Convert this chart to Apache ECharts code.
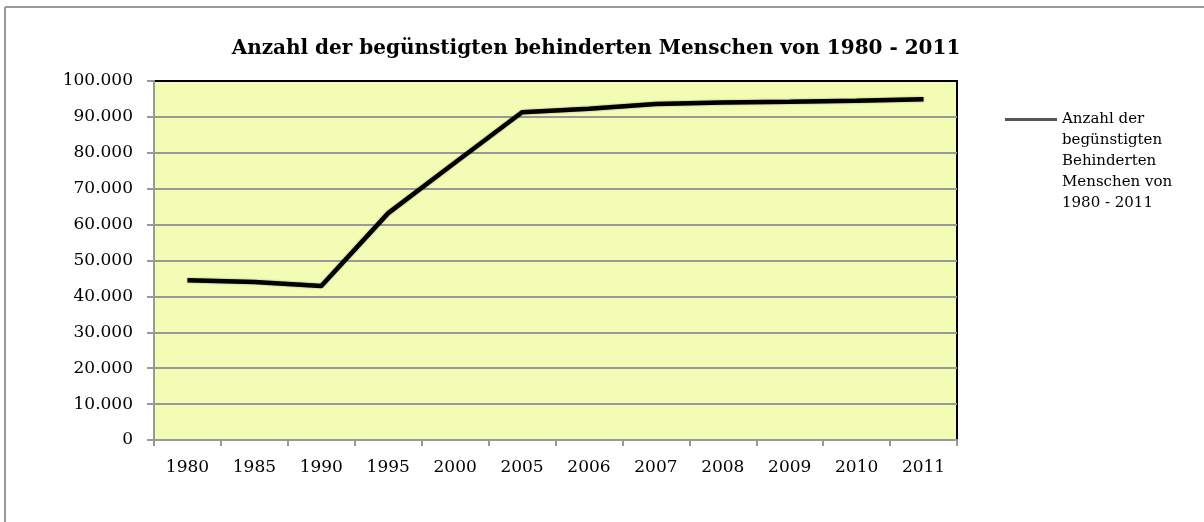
<!DOCTYPE html>
<html>
<head>
<meta charset="utf-8">
<script src="https://cdn.jsdelivr.net/npm/echarts@6/dist/echarts.min.js"></script>
<style>
html, body { margin: 0; padding: 0; background: #fff; }
#chart { width: 1204px; height: 522px; }
</style>
</head>
<body>
<div id="chart"></div>
<script>
// Jahre (Kategorien)
var years = ['1980', '1985', '1990', '1995', '2000', '2005', '2006', '2007', '2008', '2009', '2010', '2011'];
// Werte
var values = [44500, 44000, 42900, 63200, 77300, 91300, 92300, 93600, 94000, 94200, 94500, 94900];
var yTickLabels = ['0', '10.000', '20.000', '30.000', '40.000', '50.000', '60.000', '70.000', '80.000', '90.000', '100.000'];
var seriesName = 'Anzahl der begünstigten Behinderten Menschen von 1980 - 2011';
var legendLines = ['Anzahl der', 'begünstigten', 'Behinderten', 'Menschen von', '1980 - 2011'];

var serif = '"DejaVu Serif", "Liberation Serif", serif';

var chart = echarts.init(document.getElementById('chart'));
var option = {
	backgroundColor: '#fff',
	animation: false,
	title: {
		text: 'Anzahl der begünstigten behinderten Menschen von 1980 - 2011',
		left: 591,
		textAlign: 'center',
		top: 34,
		textStyle: {
			fontFamily: serif,
			fontSize: 20,
			fontWeight: 'bold',
			color: '#000'
		}
	},
	legend: {
		show: true,
		orient: 'vertical',
		left: 1005,
		top: 25,
		padding: 0,
		itemWidth: 52,
		itemHeight: 3,
		itemGap: 0,
		icon: 'rect',
		// leere Zeilen davor, damit die erste Zeile neben dem Strich steht
		formatter: function() {
			return '\n\n\n\n' + legendLines.join('\n');
		},
		textStyle: {
			fontFamily: serif,
			fontSize: 15,
			color: '#000',
			lineHeight: 21
		},
		data: [{ name: seriesName, icon: 'rect', itemStyle: { color: '#555' } }]
	},
	grid: {
		left: 154,
		right: 247,
		top: 81,
		bottom: 82,
		show: true,
		backgroundColor: '#f3fcb5',
		borderColor: '#000',
		borderWidth: 2
	},
	xAxis: {
		type: 'category',
		data: years,
		boundaryGap: true,
		axisLine: { show: true, lineStyle: { color: '#999', width: 2 } },
		axisTick: { show: true, length: 6, lineStyle: { color: '#999', width: 2 } },
		axisLabel: {
			margin: 19,
			fontFamily: serif,
			fontSize: 17,
			color: '#000'
		},
		splitLine: { show: false }
	},
	yAxis: {
		type: 'value',
		min: 0,
		max: 100000,
		interval: 10000,
		axisLine: { show: true, lineStyle: { color: '#999', width: 2 } },
		axisTick: { show: true, length: 7, lineStyle: { color: '#999', width: 2 } },
		axisLabel: {
			margin: 21,
			fontFamily: serif,
			fontSize: 17,
			color: '#000',
			formatter: function(v) {
				return yTickLabels[Math.round(v / 10000)];
			}
		},
		splitLine: {
			show: true,
			showMaxLine: false,
			lineStyle: { color: '#999', width: 2 }
		}
	},
	graphic: [
		{ type: 'line', shape: { x1: 5, y1: 7, x2: 1204, y2: 7 }, style: { stroke: '#999', lineWidth: 2 } },
		{ type: 'line', shape: { x1: 5, y1: 7, x2: 5, y2: 522 }, style: { stroke: '#999', lineWidth: 2 } }
	],
	series: [{
		name: seriesName,
		type: 'line',
		data: values,
		showSymbol: false,
		symbol: 'none',
		lineStyle: {
			color: '#000',
			width: 4.5,
			shadowColor: 'rgba(0,0,0,0.4)',
			shadowBlur: 2
		},
		itemStyle: { color: '#555' }
	}]
};
chart.setOption(option);
</script>
</body>
</html>
